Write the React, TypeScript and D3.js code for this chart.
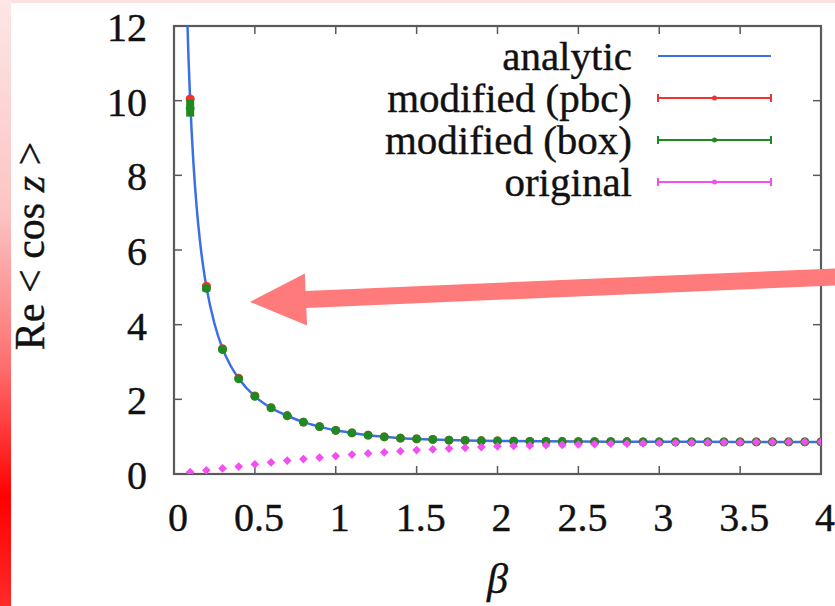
import React, { useRef, useEffect } from "react";
import * as d3 from "d3";

// beta values where the simulations were run
const betaGrid = [
  0.1, 0.2, 0.3, 0.4, 0.5, 0.6, 0.7, 0.8, 0.9, 1.0,
  1.1, 1.2, 1.3, 1.4, 1.5, 1.6, 1.7, 1.8, 1.9, 2.0,
  2.1, 2.2, 2.3, 2.4, 2.5, 2.6, 2.7, 2.8, 2.9, 3.0,
  3.1, 3.2, 3.3, 3.4, 3.5, 3.6, 3.7, 3.8, 3.9, 4.0,
];

const pbcValues = [
  10.05, 5.03, 3.36, 2.57, 2.09, 1.78, 1.56, 1.39, 1.27, 1.17,
  1.1, 1.04, 0.995, 0.96, 0.94, 0.925, 0.91, 0.9, 0.89, 0.885,
  0.88, 0.875, 0.872, 0.87, 0.868, 0.866, 0.865, 0.864, 0.863, 0.862,
  0.862, 0.861, 0.861, 0.861, 0.86, 0.86, 0.86, 0.86, 0.86, 0.86,
];
const pbcErrors = [0.04, 0.03, 0.02, 0.01, 0.01, 0, 0, 0, 0, 0, 0, 0, 0, 0, 0, 0, 0, 0, 0, 0, 0, 0, 0, 0, 0, 0, 0, 0, 0, 0, 0, 0, 0, 0, 0, 0, 0, 0, 0, 0];

const boxValues = [
  9.8, 4.97, 3.33, 2.55, 2.08, 1.77, 1.56, 1.39, 1.27, 1.17,
  1.1, 1.04, 0.995, 0.96, 0.94, 0.925, 0.91, 0.9, 0.89, 0.885,
  0.88, 0.875, 0.872, 0.87, 0.868, 0.866, 0.865, 0.864, 0.863, 0.862,
  0.862, 0.861, 0.861, 0.861, 0.86, 0.86, 0.86, 0.86, 0.86, 0.86,
];
const boxErrors = [0.2, 0.06, 0.02, 0.01, 0.01, 0, 0, 0, 0, 0, 0, 0, 0, 0, 0, 0, 0, 0, 0, 0, 0, 0, 0, 0, 0, 0, 0, 0, 0, 0, 0, 0, 0, 0, 0, 0, 0, 0, 0, 0];

const originalValues = [
  0.05, 0.1, 0.15, 0.2, 0.26, 0.31, 0.36, 0.4, 0.44, 0.48,
  0.52, 0.55, 0.58, 0.61, 0.64, 0.66, 0.68, 0.7, 0.72, 0.74,
  0.75, 0.76, 0.77, 0.78, 0.79, 0.8, 0.81, 0.815, 0.82, 0.83,
  0.835, 0.84, 0.845, 0.85, 0.85, 0.855, 0.855, 0.86, 0.86, 0.86,
];

const analyticBeta = [
  0.075, 0.08, 0.09, 0.1, 0.12, 0.14, 0.16, 0.18, 0.2, 0.25, 0.3, 0.35, 0.4,
  0.5, 0.6, 0.7, 0.8, 0.9, 1.0, 1.1, 1.2, 1.3, 1.4, 1.6, 1.8, 2.0, 2.5, 3.0, 3.5, 4.0,
];
const analyticValues = [
  13.3, 12.5, 11.1, 10.0, 8.34, 7.15, 6.26, 5.57, 5.02, 4.03, 3.36, 2.9, 2.56,
  2.08, 1.77, 1.56, 1.39, 1.27, 1.17, 1.1, 1.04, 0.995, 0.96, 0.925, 0.9, 0.885, 0.868, 0.862, 0.86, 0.86,
];

const xTicks = [0, 0.5, 1, 1.5, 2, 2.5, 3, 3.5, 4];
const yTicks = [0, 2, 4, 6, 8, 10, 12];

const legendLabels = ["analytic", "modified (pbc)", "modified (box)", "original"];
const seriesColors = ["#3b6fe6", "#f03232", "#1f8a1f", "#f050f0"];

// annotation arrow, in data units (tail runs off the right edge)
const arrowTip = [0.47, 4.61];
const arrowTail = [4.2, 5.3];

const App = () => {
  const ref = useRef(null);
  const width = 835;
  const height = 606;
  const font = "Liberation Serif";

  useEffect(() => {
    const svg = d3.select(ref.current);
    svg.selectAll("*").remove();

    const x = d3.scaleLinear().domain([0, 4]).range([174, 821]);
    const y = d3.scaleLinear().domain([0, 12]).range([474, 26]);

    // red border on the left and top
    const defs = svg.append("defs");
    const grad = defs
      .append("linearGradient")
      .attr("id", "edge")
      .attr("x1", 0).attr("y1", 0).attr("x2", 0).attr("y2", 1);
    [
      [0, "#fde6e6"],
      [0.35, "#fcc4c4"],
      [0.6, "#ff7070"],
      [0.82, "#ff0000"],
      [1, "#ff2a2a"],
    ].forEach(([o, c]) => grad.append("stop").attr("offset", o).attr("stop-color", c));
    defs
      .append("clipPath")
      .attr("id", "plot")
      .append("rect")
      .attr("x", x(0))
      .attr("y", y(12))
      .attr("width", x(4) - x(0))
      .attr("height", y(0) - y(12));

    svg.append("rect").attr("width", width).attr("height", height).attr("fill", "#fff");
    svg.append("rect").attr("x", 0).attr("y", 0).attr("width", 11).attr("height", height).attr("fill", "url(#edge)");
    svg.append("rect").attr("x", 11).attr("y", 0).attr("width", width).attr("height", 3).attr("fill", "#fde2e2");

    // frame and inward ticks
    const axisColor = "#5a5a5a";
    const tickLen = 8;
    const g = svg.append("g");
    xTicks.slice(1, -1).forEach((t) => {
      g.append("line").attr("x1", x(t)).attr("x2", x(t)).attr("y1", y(0)).attr("y2", y(0) - tickLen);
      g.append("line").attr("x1", x(t)).attr("x2", x(t)).attr("y1", y(12)).attr("y2", y(12) + tickLen);
    });
    yTicks.slice(1, -1).forEach((t) => {
      g.append("line").attr("x1", x(0)).attr("x2", x(0) + tickLen).attr("y1", y(t)).attr("y2", y(t));
      g.append("line").attr("x1", x(4)).attr("x2", x(4) - tickLen).attr("y1", y(t)).attr("y2", y(t));
    });
    g.selectAll("line").attr("stroke", axisColor).attr("stroke-width", 1.5);
    g.append("rect")
      .attr("x", x(0))
      .attr("y", y(12))
      .attr("width", x(4) - x(0))
      .attr("height", y(0) - y(12))
      .attr("fill", "none")
      .attr("stroke", axisColor)
      .attr("stroke-width", 2.2);

    const txt = (sel, size) =>
      sel
        .style("font-family", font)
        .attr("font-size", size)
        .attr("fill", "#111")
        .attr("stroke", "#111")
        .attr("stroke-width", 0.4);

    // tick labels
    txt(
      svg
        .selectAll(".xl")
        .data(xTicks)
        .enter()
        .append("text")
        .attr("x", (d) => x(d) + 4)
        .attr("y", 531)
        .attr("text-anchor", "middle")
        .text((d) => String(d)),
      40
    );
    txt(
      svg
        .selectAll(".yl")
        .data(yTicks)
        .enter()
        .append("text")
        .attr("x", 147)
        .attr("y", (d) => y(d) + 15)
        .attr("text-anchor", "end")
        .text((d) => String(d)),
      40
    );

    // axis titles
    const yTitle = txt(
      svg
        .append("text")
        .attr("transform", "translate(44,246) rotate(-90)")
        .attr("text-anchor", "middle"),
      42
    );
    yTitle.append("tspan").text("Re < cos ");
    yTitle.append("tspan").attr("font-style", "italic").text("z");
    yTitle.append("tspan").text(" >");
    txt(
      svg
        .append("text")
        .attr("x", x(2))
        .attr("y", 593)
        .attr("text-anchor", "middle")
        .attr("font-style", "italic")
        .text("β"),
      42
    );

    const plot = svg.append("g").attr("clip-path", "url(#plot)");

    // analytic line
    const line = d3
      .line()
      .x((d) => x(d[0]))
      .y((d) => y(d[1]))
      .curve(d3.curveMonotoneX);
    plot
      .append("path")
      .datum(analyticBeta.map((b, i) => [b, analyticValues[i]]))
      .attr("d", line)
      .attr("fill", "none")
      .attr("stroke", seriesColors[0])
      .attr("stroke-width", 2.5);

    // points with error bars
    const drawPoints = (values, errors, color) => {
      const pts = betaGrid.map((b, i) => ({ b, v: values[i], e: errors[i] }));
      plot
        .selectAll(null)
        .data(pts)
        .enter()
        .append("line")
        .attr("x1", (d) => x(d.b))
        .attr("x2", (d) => x(d.b))
        .attr("y1", (d) => y(d.v - d.e) + 1)
        .attr("y2", (d) => y(d.v + d.e) - 1)
        .attr("stroke", color)
        .attr("stroke-width", 8);
      plot
        .selectAll(null)
        .data(pts)
        .enter()
        .append("circle")
        .attr("cx", (d) => x(d.b))
        .attr("cy", (d) => y(d.v))
        .attr("r", 4.4)
        .attr("fill", color);
    };
    drawPoints(pbcValues, pbcErrors, seriesColors[1]);
    drawPoints(boxValues, boxErrors, seriesColors[2]);

    const diamond = d3.symbol().type(d3.symbolSquare).size(38);
    plot
      .selectAll(null)
      .data(betaGrid.map((b, i) => [b, originalValues[i]]))
      .enter()
      .append("path")
      .attr("d", diamond)
      .attr("transform", (d) => `translate(${x(d[0])},${y(d[1])}) rotate(45)`)
      .attr("fill", seriesColors[3]);

    // legend
    const rowY = [70, 112, 154, 196];
    legendLabels.forEach((label, i) => {
      txt(
        svg
          .append("text")
          .attr("x", 632)
          .attr("y", rowY[i])
          .attr("text-anchor", "end")
          .text(label),
        41
      );
      const ly = rowY[i] - 14;
      const lg = svg.append("g").attr("stroke", seriesColors[i]).attr("fill", seriesColors[i]);
      lg.append("line").attr("x1", 658).attr("x2", 771).attr("y1", ly).attr("y2", ly).attr("stroke-width", 2.2);
      if (i > 0) {
        [658, 771].forEach((lx) =>
          lg.append("line").attr("x1", lx).attr("x2", lx).attr("y1", ly - 4).attr("y2", ly + 4).attr("stroke-width", 2)
        );
        lg.append("circle").attr("cx", 714.5).attr("cy", ly).attr("r", 2.5).attr("stroke", "none");
      }
    });

    // big annotation arrow
    const tip = [x(arrowTip[0]), y(arrowTip[1])];
    const tail = [x(arrowTail[0]), y(arrowTail[1])];
    const dx = tail[0] - tip[0];
    const dy = tail[1] - tip[1];
    const len = Math.hypot(dx, dy);
    const u = [dx / len, dy / len];
    const n = [u[1], -u[0]];
    const headLen = 56;
    const headHalf = 26;
    const shaftHalf = 8.5;
    const base = [tip[0] + u[0] * headLen, tip[1] + u[1] * headLen];
    const pt = (p, k) => [p[0] + n[0] * k, p[1] + n[1] * k];
    const poly = [
      tip,
      pt(base, headHalf),
      pt(base, shaftHalf),
      pt(tail, shaftHalf),
      pt(tail, -shaftHalf),
      pt(base, -shaftHalf),
      pt(base, -headHalf),
    ];
    svg
      .append("path")
      .attr("d", "M" + poly.map((p) => p.join(",")).join("L") + "Z")
      .attr("fill", "#ff7b7b");
  }, []);

  return (
    <svg
      ref={ref}
      width={width}
      height={height}
      style={{ position: "absolute", left: 0, top: 0 }}
    ></svg>
  );
};

export default App;
